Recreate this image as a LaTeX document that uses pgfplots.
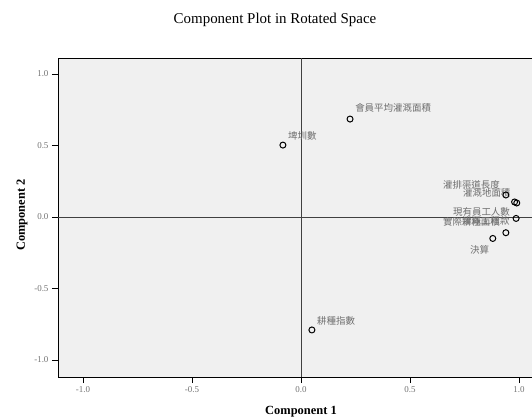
\documentclass[border=0pt]{standalone}
\usepackage{pgfplots}
\pgfplotsset{compat=1.18}
\usepackage{fontspec}
\setmainfont{Liberation Serif}
\newfontfamily\cjk{Noto Sans CJK TC}
\definecolor{bgc}{RGB}{240,240,240}
\definecolor{lblc}{RGB}{110,110,110}
\begin{document}
\begin{tikzpicture}
\useasboundingbox (0,0) rectangle (532bp,419bp);
\begin{axis}[
  at={(58bp,42bp)}, anchor=south west,
  scale only axis, width=486bp, height=319bp,
  xmin=-1.115, xmax=1.115, ymin=-1.119, ymax=1.112,
  axis background/.style={fill=bgc},
  axis line style={line width=0.9pt},
  xtick={-1,-0.5,0,0.5,1}, ytick={-1,-0.5,0,0.5,1},
  xtick pos=left, ytick pos=left, tick align=outside,
  major tick length=6bp,
  every tick/.style={black, line width=0.8pt},
  tick label style={font=\fontsize{9}{9}\selectfont, text=black!55},
  /pgf/number format/.cd, fixed, fixed zerofill, precision=1, assume math mode=true,
]
\draw[black!75, line width=0.8pt] (axis cs:0,-1.119) -- (axis cs:0,1.112);
\draw[black!75, line width=0.8pt] (axis cs:-1.115,0) -- (axis cs:1.115,0);
\addplot[only marks, mark=o, mark size=3bp, mark options={line width=1pt, black}] coordinates {
 (0.225,0.685) (-0.083,0.503) (0.05,-0.79)
 (0.94,0.154) (0.98,0.105) (0.99,0.098) (0.987,-0.01) (0.94,-0.11) (0.88,-0.15)
};
\begin{scope}[every node/.style={anchor=west, inner sep=0pt, text=lblc, font=\cjk\fontsize{9.5}{9.5}\selectfont}]
\node at (axis cs:0.248,0.762) {會員平均灌溉面積};
\node at (axis cs:-0.06,0.566) {埤圳數};
\node at (axis cs:0.073,-0.727) {耕種指數};
\node at (axis cs:0.651,0.224) {灌排渠道長度};
\node at (axis cs:0.743,0.168) {灌溉地面積};
\node at (axis cs:0.697,0.035) {現有員工人數};
\node at (axis cs:0.651,-0.035) {實際耕種面積};
\node at (axis cs:0.739,-0.028) {灌溉工程款};
\node at (axis cs:0.775,-0.231) {決算};
\end{scope}
\end{axis}
\node[font=\fontsize{15}{15}\selectfont] at (275bp,399bp) {Component Plot in Rotated Space};
\node[font=\bfseries\fontsize{12.5}{12.5}\selectfont] at (301bp,7bp) {Component 1};
\node[font=\bfseries\fontsize{12.5}{12.5}\selectfont, rotate=90] at (22bp,204bp) {Component 2};
\end{tikzpicture}
\end{document}
